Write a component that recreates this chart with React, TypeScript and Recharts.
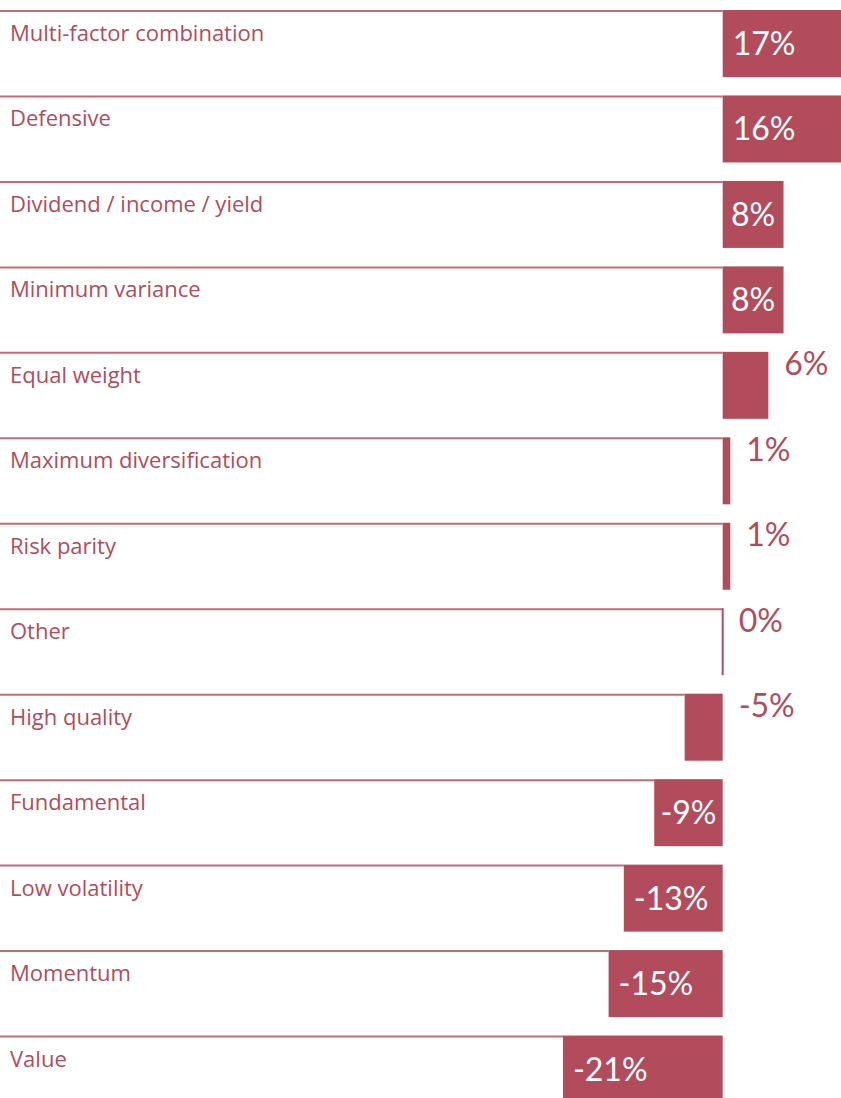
import { BarChart, Bar, XAxis, YAxis, LabelList } from 'recharts';

const categories = [
  'Multi-factor combination',
  'Defensive',
  'Dividend / income / yield',
  'Minimum variance',
  'Equal weight',
  'Maximum diversification',
  'Risk parity',
  'Other',
  'High quality',
  'Fundamental',
  'Low volatility',
  'Momentum',
  'Value',
];
const values = [17, 16, 8, 8, 6, 1, 1, 0, -5, -9, -13, -15, -21];

const data = categories.map((name, i) => ({ name, value: values[i] }));

const RED = '#b24c5c';
const LINE = '#c46a78';
const FONT = 'Lato, sans-serif';

// bar + the rule that runs from the left edge to the bar
const BarShape = (props: any) => {
  const { x, y, width, height } = props;
  const left = Math.min(x, x + width);
  const w = Math.abs(width);
  return (
    <g>
      <line x1={0} y1={y + 1} x2={left} y2={y + 1} stroke={LINE} strokeWidth={2} />
      {w < 1 ? (
        <line x1={x} y1={y} x2={x} y2={y + height} stroke={RED} strokeWidth={2} />
      ) : (
        <rect x={left} y={y} width={w} height={height} fill={RED} />
      )}
    </g>
  );
};

const ValueLabel = (props: any) => {
  const { x, y, width, height, value } = props;
  const left = Math.min(x, x + width);
  const right = Math.max(x, x + width);
  const w = Math.abs(width);
  const text = `${value}%`;
  if (Math.abs(value) >= 8) {
    const inCenter = w < 80;
    return (
      <text
        x={inCenter ? left + w / 2 : left + 10}
        y={y + height / 2 - 1}
        textAnchor={inCenter ? 'middle' : 'start'}
        dominantBaseline="central"
        fill="#ffffff"
        fontSize={32}
        fontFamily={FONT}
      >
        {text}
      </text>
    );
  }
  return (
    <text
      x={Math.max(right, x) + 16}
      y={y + 11}
      textAnchor="start"
      dominantBaseline="central"
      fill={RED}
      fontSize={32}
      fontFamily={FONT}
    >
      {text}
    </text>
  );
};

const NameLabel = (props: any) => {
  const { y, height, value } = props;
  return (
    <text x={10} y={y + height / 2 - 2.5} textAnchor="start" fill={RED} fontSize={22} fontFamily="'Open Sans', sans-serif">
      {value}
    </text>
  );
};

export default function App() {
  return (
    <div style={{ position: 'absolute', left: 0, top: 0, width: 841, height: 1098, overflow: 'hidden', background: '#fff' }}>
      <BarChart
        width={852}
        height={1112}
        data={data}
        layout="vertical"
        margin={{ top: 1, right: 0, bottom: 0, left: 0 }}
      >
        <XAxis type="number" domain={[-95, 17]} hide />
        <YAxis type="category" dataKey="name" hide />
        <Bar dataKey="value" barSize={67} shape={<BarShape />} isAnimationActive={false}>
          <LabelList dataKey="name" content={<NameLabel />} />
          <LabelList dataKey="value" content={<ValueLabel />} />
        </Bar>
      </BarChart>
    </div>
  );
}
